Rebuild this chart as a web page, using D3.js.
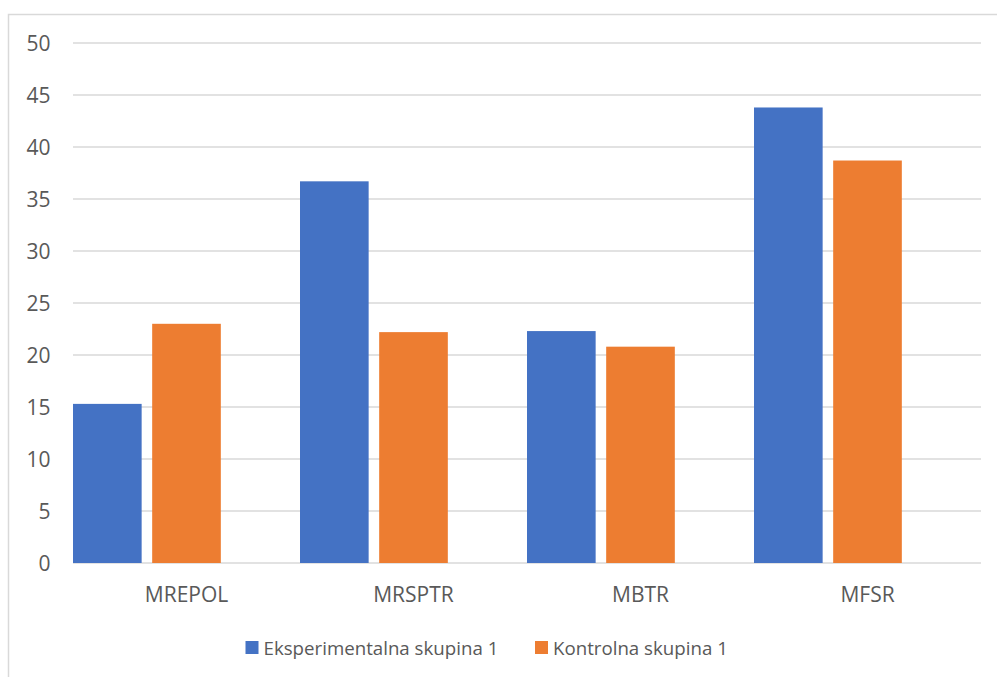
<!DOCTYPE html>
<html><head><meta charset="utf-8">
<script src="https://cdn.jsdelivr.net/npm/d3@7"></script>
<style>body{margin:0;background:#fff}svg{display:block}text{font-family:"Open Sans",sans-serif;fill:#595959}</style>
</head><body><svg id="c" width="997" height="677"></svg>
<script>
const categories = ["MREPOL","MRSPTR","MBTR","MFSR"];
const seriesNames = ["Eksperimentalna skupina 1","Kontrolna skupina 1"];
const eksperimentalna = [15.3, 36.7, 22.3, 43.8];
const kontrolna = [23.0, 22.2, 20.8, 38.7];
const yTicks = [0,5,10,15,20,25,30,35,40,45,50];
const colors = ["#4472c4","#ed7d31"];

const svg = d3.select("#c");
const pLeft = 73, pRight = 981, pTop = 43, pBottom = 563;
// chart border
svg.append("path").attr("d","M8.5,677 L8.5,14.5 L997,14.5").attr("fill","none").attr("stroke","#d9d9d9").attr("stroke-width",1.5);

const y = d3.scaleLinear().domain([0,50]).range([pBottom, pTop]);
const x = d3.scaleBand().domain(categories).range([pLeft, pRight]).padding(0);
const slots = ["s0","s1","s2"];
const xs = d3.scaleBand().domain(slots).range([0, x.bandwidth()]).paddingInner(0.133).paddingOuter(0).align(0);

const g = svg.append("g");
g.selectAll("line.grid").data(yTicks).join("line").attr("class","grid")
  .attr("x1", pLeft).attr("x2", pRight).attr("y1", d=>y(d)).attr("y2", d=>y(d))
  .attr("stroke","#d9d9d9").attr("stroke-width",1.5);

const yAxis = d3.axisLeft(y).tickValues(yTicks).tickSize(0).tickPadding(0);
const ya = svg.append("g").attr("transform","translate(50.5,0)").call(yAxis);
ya.select(".domain").remove();
ya.selectAll("text").attr("font-size",21).attr("font-family",null).attr("fill","#595959").attr("dy","0.36em");

const data = [eksperimentalna, kontrolna];
data.forEach((vals, si) => {
  g.selectAll("rect.s"+si).data(vals).join("rect").attr("class","s"+si)
    .attr("x",(d,i)=>x(categories[i]) + xs(slots[si]))
    .attr("width", xs.bandwidth())
    .attr("y", d=>y(d)).attr("height", d=>y(0)-y(d))
    .attr("fill", colors[si]);
});

const xAxis = d3.axisBottom(x).tickSize(0).tickPadding(0);
const xa = svg.append("g").attr("transform",`translate(0,${pBottom+38.5})`).call(xAxis);
xa.select(".domain").remove();
xa.selectAll("text").attr("font-size",21).attr("font-family",null).attr("fill","#595959").attr("dy","0");

const legX = [245.5, 535];
const leg = svg.append("g");
seriesNames.forEach((n,i)=>{
  leg.append("rect").attr("x",legX[i]).attr("y",641).attr("width",13).attr("height",13).attr("fill",colors[i]);
  leg.append("text").attr("x",legX[i]+18).attr("y",655).attr("font-size",18.7).text(n);
});
</script></body></html>
